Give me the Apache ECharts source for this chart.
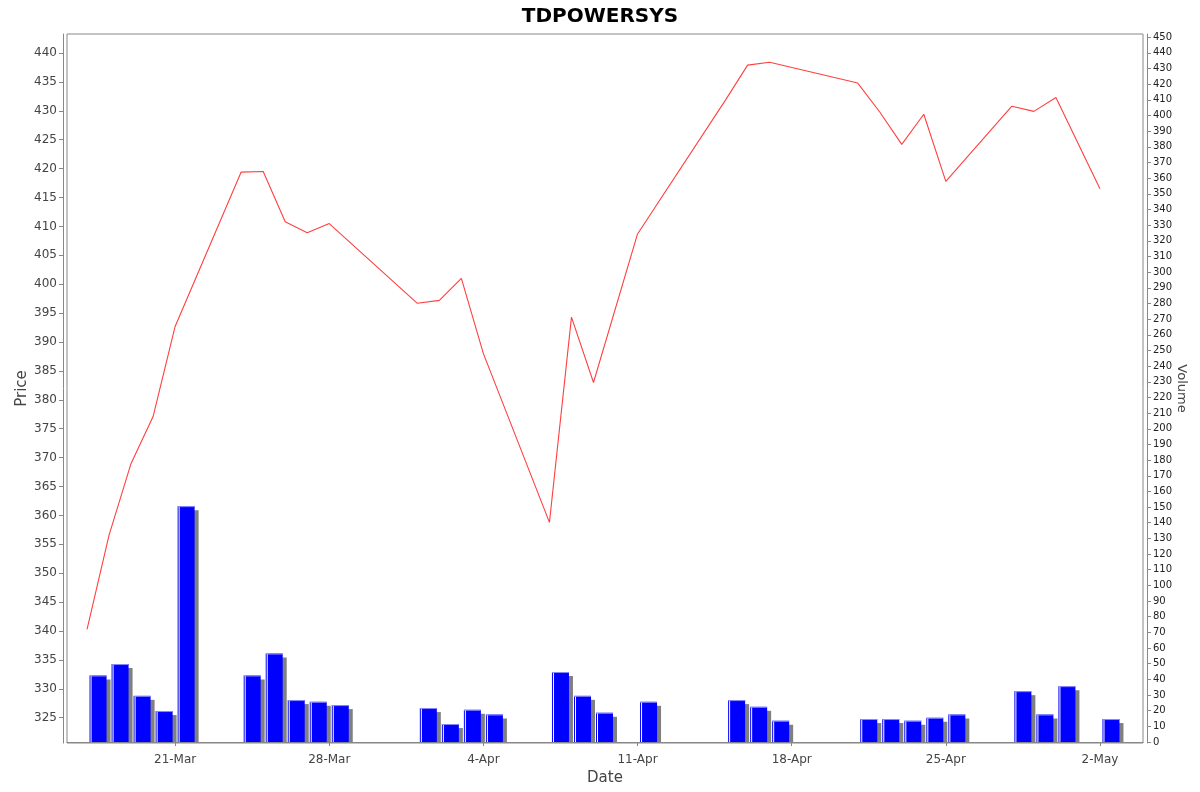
<!DOCTYPE html>
<html>
<head>
<meta charset="utf-8">
<script src="https://cdn.jsdelivr.net/npm/echarts@6/dist/echarts.min.js"></script>
<style>
  html, body { margin: 0; padding: 0; background: #fff; }
  #chart { width: 1200px; height: 792px; }
</style>
</head>
<body>
<div id="chart"></div>
<script>
// Handelsdagen (NSE, 2025)
const dates = [
  '2025-03-17', '2025-03-18', '2025-03-19', '2025-03-20', '2025-03-21',
  '2025-03-24', '2025-03-25', '2025-03-26', '2025-03-27', '2025-03-28',
  '2025-04-01', '2025-04-02', '2025-04-03', '2025-04-04',
  '2025-04-07', '2025-04-08', '2025-04-09',
  '2025-04-11',
  '2025-04-15', '2025-04-16', '2025-04-17',
  '2025-04-21', '2025-04-22', '2025-04-23', '2025-04-24', '2025-04-25',
  '2025-04-28', '2025-04-29', '2025-04-30',
  '2025-05-02'
];

// Slotkoers
const closePrice = [
  340.3, 356.6, 369.0, 377.1, 392.7,
  419.4, 419.5, 410.8, 408.9, 410.5,
  396.7, 397.2, 401.0, 388.0,
  358.8, 394.3, 383.0,
  408.7,
  431.9, 437.9, 438.4,
  434.8, 429.8, 424.2, 429.4, 417.8,
  430.8, 429.9, 432.3,
  416.5
];

// Volume
const volume = [
  42.5, 49.8, 29.5, 19.8, 150.6,
  42.5, 56.5, 26.8, 25.7, 23.6,
  21.7, 11.5, 20.6, 17.6,
  44.7, 29.5, 18.7,
  25.7,
  26.8, 22.5, 13.6,
  14.7, 14.7, 13.6, 15.5, 17.6,
  32.5, 17.6, 35.7,
  14.7
];

// As-labels
const dateTicks = ['2025-03-21', '2025-03-28', '2025-04-04', '2025-04-11', '2025-04-18', '2025-04-25', '2025-05-02'];
const priceTicks = [325, 330, 335, 340, 345, 350, 355, 360, 365, 370, 375, 380, 385, 390, 395, 400, 405, 410, 415, 420, 425, 430, 435, 440];
const volumeTicks = [0, 10, 20, 30, 40, 50, 60, 70, 80, 90, 100, 110, 120, 130, 140, 150, 160, 170, 180, 190, 200,
  210, 220, 230, 240, 250, 260, 270, 280, 290, 300, 310, 320, 330, 340, 350, 360, 370, 380, 390, 400,
  410, 420, 430, 440, 450];

const DAY = 24 * 3600 * 1000;
const MONTHS = ['Jan', 'Feb', 'Mar', 'Apr', 'May', 'Jun', 'Jul', 'Aug', 'Sep', 'Oct', 'Nov', 'Dec'];
const toTime = (s) => {
  const p = s.split('-').map(Number);
  return Date.UTC(p[0], p[1] - 1, p[2]);
};

function drawVisualisation() {
  let visualisation = echarts.init(document.getElementById('chart'));

  const lineData = dates.map((d, i) => [toTime(d), closePrice[i]]);
  const barData = dates.map((d, i) => [toTime(d) + DAY / 2, volume[i]]);

  // Balk met schaduw zoals in de oorspronkelijke grafiek
  function renderBar(params, api) {
    const top = api.coord([api.value(0), api.value(1)]);
    const base = api.coord([api.value(0), 0]);
    const w = 17;
    const x = top[0] - w / 2;
    const h = base[1] - top[1];
    return {
      type: 'group',
      children: [
        { type: 'rect', shape: { x: x + 4, y: top[1] + 4, width: w, height: h - 4 }, style: { fill: '#808080' } },
        { type: 'rect', shape: { x: x, y: top[1], width: w, height: h }, style: { fill: '#0000ff' } },
        { type: 'rect', shape: { x: x + 1, y: top[1], width: 1, height: h }, style: { fill: '#ffffff' } },
        { type: 'rect', shape: { x: x, y: top[1], width: w, height: 1 }, style: { fill: '#8c8cff' } }
      ]
    };
  }

  const font = 'DejaVu Sans';
  const dateTickValues = dateTicks.map(toTime);

  let option = {
    animation: false,
    backgroundColor: '#ffffff',
    title: {
      text: 'TDPOWERSYS',
      left: 'center',
      top: 2,
      textStyle: { fontFamily: font, fontSize: 20, fontWeight: 'bold', color: '#000' }
    },
    grid: {
      left: 67, right: 57, top: 34, bottom: 49,
      outerBoundsMode: 'none',
      containLabel: false,
      show: true, borderColor: '#888', borderWidth: 1, backgroundColor: '#fff'
    },
    xAxis: {
      type: 'value',
      min: toTime('2025-03-16') + 0.09 * DAY,
      max: toTime('2025-05-03') + 0.955 * DAY,
      offset: 4,
      name: 'Date',
      nameLocation: 'middle',
      nameGap: 24,
      nameMoveOverlap: false,
      nameTextStyle: { fontFamily: font, fontSize: 15, color: '#444' },
      axisLine: { lineStyle: { color: '#888' } },
      axisTick: { show: true, length: 4, lineStyle: { color: '#888' }, customValues: dateTickValues },
      axisLabel: {
        fontFamily: font, fontSize: 12, color: '#444', margin: 7,
        customValues: dateTickValues,
        formatter: (v) => {
          const d = new Date(v);
          return d.getUTCDate() + '-' + MONTHS[d.getUTCMonth()];
        }
      },
      splitLine: { show: false }
    },
    yAxis: [
      {
        type: 'value',
        position: 'left',
        min: 320.63,
        max: 443.29,
        offset: 4,
        name: 'Price',
        nameLocation: 'middle',
        nameGap: 33,
        nameMoveOverlap: false,
        nameTextStyle: { fontFamily: font, fontSize: 15, color: '#444' },
        axisLine: { show: true, lineStyle: { color: '#888' } },
        axisTick: { show: true, length: 4, lineStyle: { color: '#888' }, customValues: priceTicks },
        axisLabel: { fontFamily: font, fontSize: 12, color: '#444', margin: 6, customValues: priceTicks },
        splitLine: { show: false }
      },
      {
        type: 'value',
        position: 'right',
        min: -0.6,
        max: 452,
        offset: 4,
        name: 'Volume',
        nameLocation: 'middle',
        nameRotate: -90,
        nameGap: 28,
        nameMoveOverlap: false,
        nameTextStyle: { fontFamily: font, fontSize: 13, color: '#444' },
        axisLine: { show: true, lineStyle: { color: '#888' } },
        axisTick: { show: true, length: 4, lineStyle: { color: '#888' }, customValues: volumeTicks },
        axisLabel: { fontFamily: font, fontSize: 10, color: '#222', margin: 6, customValues: volumeTicks },
        splitLine: { show: false }
      }
    ],
    series: [
      {
        name: 'Volume',
        type: 'custom',
        yAxisIndex: 1,
        renderItem: renderBar,
        clip: true,
        data: barData,
        z: 1
      },
      {
        name: 'Price',
        type: 'line',
        yAxisIndex: 0,
        data: lineData,
        showSymbol: false,
        lineStyle: { color: '#ff4040', width: 1.1 },
        z: 2
      }
    ]
  };

  visualisation.setOption(option);
}

window.addEventListener('load', drawVisualisation);
</script>
</body>
</html>
